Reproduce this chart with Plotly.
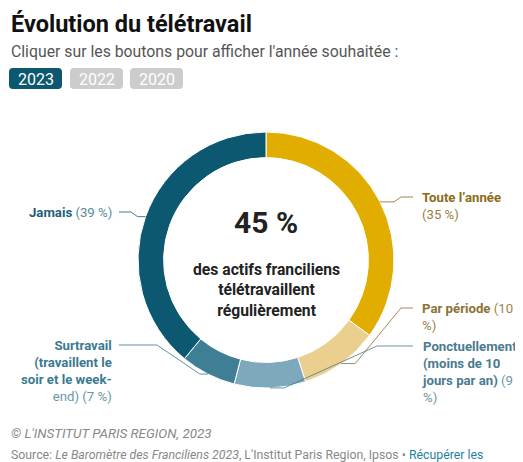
import math
import plotly.graph_objects as go

# Données : baromètre 2023
categories = ["Toute l'année", "Par période", "Ponctuellement (moins de 10 jours par an)",
              "Surtravail (travaillent le soir et le week-end)", "Jamais"]
values = [35, 10, 9, 7, 39]
colors = ["#e1ad01", "#ebcf8f", "#7ea8bb", "#3e7f96", "#0b5870"]
label_names = ["Toute l’année", "Par période", "Ponctuellement<br>(moins de 10<br>jours par an)",
               "Surtravail<br>(travaillent le<br>soir et le week-", "Jamais"]
label_tails = ["<br>(35 %)", " (10<br>%)", " (9<br>%)", "<br>end) (7 %)", " (39 %)"]
label_colors = ["#8a6c17", "#8b7236", "#4a7b8f", "#3a7a90", "#1d5f77"]
tail_colors = ["#9a8040", "#9a8450", "#6f97a8", "#6a97a8", "#5d8a9c"]
regular = [0, 1]  # "Toute l'année" + "Par période" = télétravail régulier
years = ["2023", "2022", "2020"]

# la page html a une marge de 8 px : la figure fait 515x454 et commence à (8, 8)
OFF = 8
W, H = 523 - OFF, 462 - OFF
CX, CY, R = 266, 260, 128


def px(x):
    return (x - OFF) / W


def py(y):
    return 1 - (y - OFF) / H


def note(x, y, text, size, color, xanchor="center", yanchor="middle", align="center", italic=False):
    return dict(x=px(x), y=py(y), xref="paper", yref="paper", xanchor=xanchor, yanchor=yanchor,
                align=align, showarrow=False, text=text,
                font=dict(family="Roboto", size=size, color=color,
                          style="italic" if italic else "normal"))


fig = go.Figure(go.Pie(
    labels=categories, values=values, sort=False, direction="clockwise", rotation=0,
    hole=0.8, marker=dict(colors=colors, line=dict(color="white", width=1)),
    textinfo="none", hoverinfo="label+percent", showlegend=False,
    domain=dict(x=[px(CX - R), px(CX + R)], y=[py(CY + R), py(CY - R)]),
))

# étiquettes extérieures + lignes de rappel
label_pos = [(420, 188, "right"), (420, 299, "right"), (420, 337, "right"),
             (114, 336, "left"), (114, 203, "left")]
stubs = [12, 12, 36, 38, 12]
shapes = []
annotations = []
total = sum(values)
cum = 0
for i, v in enumerate(values):
    mid = (cum + v / 2) / total * 2 * math.pi
    cum += v
    ax = CX + R * math.sin(mid)
    ay = CY - R * math.cos(mid)
    lx, ly, side = label_pos[i]
    ly_mid = ly + 9
    if side == "right":
        x0 = lx - 7
        pts = [(x0, ly_mid), (x0 - stubs[i], ly_mid), (ax + 14, ay), (ax, ay)]
        xanchor = "left"
    else:
        x0 = lx + 5
        pts = [(x0, ly_mid), (x0 + stubs[i], ly_mid), (ax - 8, ay), (ax, ay)]
        xanchor = "right"
    path = "M " + " L ".join(f"{px(x):.5f},{py(y):.5f}" for x, y in pts)
    shapes.append(dict(type="path", path=path, xref="paper", yref="paper",
                       line=dict(color=label_colors[i], width=1), opacity=0.8))
    annotations.append(note(
        lx, ly, f"<b>{label_names[i]}</b><span style='color:{tail_colors[i]}'>{label_tails[i]}</span>",
        13.2, label_colors[i], xanchor=xanchor, yanchor="top", align=xanchor))

# texte central
share = sum(values[i] for i in regular)
annotations.append(note(CX, 222, f"<b>{share} %</b>", 30, "#222222"))
annotations.append(note(CX, 290, "<b>des actifs franciliens<br>télétravaillent<br>régulièrement</b>",
                        15.7, "#222222"))

# titre, sous-titre
annotations.append(note(9, 8, "<b>Évolution du télétravail</b>", 23.5, "#111111",
                        xanchor="left", yanchor="top"))
annotations.append(note(9, 52, "Cliquer sur les boutons pour afficher l'année souhaitée :",
                        15.8, "#555555", xanchor="left"))

# boutons année (statique)
btn_x = [(9, 62), (70, 123), (130, 183)]
for i, y in enumerate(years):
    x0, x1 = btn_x[i]
    y0, y1 = 68, 89
    r = 4
    path = (f"M {px(x0 + r)},{py(y0)} L {px(x1 - r)},{py(y0)} Q {px(x1)},{py(y0)} {px(x1)},{py(y0 + r)} "
            f"L {px(x1)},{py(y1 - r)} Q {px(x1)},{py(y1)} {px(x1 - r)},{py(y1)} "
            f"L {px(x0 + r)},{py(y1)} Q {px(x0)},{py(y1)} {px(x0)},{py(y1 - r)} "
            f"L {px(x0)},{py(y0 + r)} Q {px(x0)},{py(y0)} {px(x0 + r)},{py(y0)} Z")
    shapes.append(dict(type="path", path=path, xref="paper", yref="paper", line=dict(width=0),
                       fillcolor="#0b5870" if i == 0 else "#cccccc"))
    annotations.append(note((x0 + x1) / 2, 79, y, 16, "white"))

# pied de page
annotations.append(note(9, 433, "© L'INSTITUT PARIS REGION, 2023", 13.4, "#888888",
                        xanchor="left", italic=True))
annotations.append(note(9, 455, "Source: <i>Le Baromètre des Franciliens 2023</i>, L'Institut Paris Region, Ipsos • "
                                 "<span style='color:#1d81a2'>Récupérer les</span>",
                        12.3, "#888888", xanchor="left"))

fig.update_layout(width=W, height=H, margin=dict(l=0, r=0, t=0, b=0),
                  paper_bgcolor="white", plot_bgcolor="white",
                  shapes=shapes, annotations=annotations)
fig.write_html("out.html")
